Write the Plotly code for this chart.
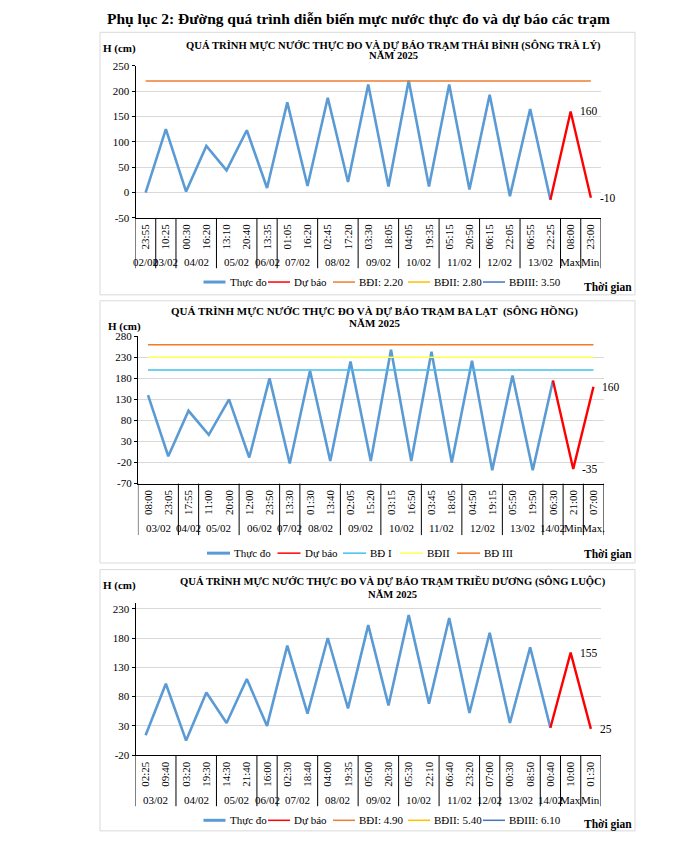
import plotly.graph_objects as go

W, H = 696, 848
FONT = "Liberation Serif"

# ---------------- Data ----------------
# Chart 1: Thái Bình (sông Trà Lý)
times1 = ["23:55", "10:25", "00:30", "16:20", "13:10", "20:40", "13:35", "01:05", "16:20", "02:45", "17:20",
          "03:30", "18:05", "04:05", "19:35", "05:15", "20:50", "06:15", "22:05", "06:55", "22:25", "08:00", "23:00"]
dates1 = ["02/02", "03/02", "04/02", "05/02", "06/02", "07/02", "08/02", "09/02", "10/02", "11/02", "12/02",
          "13/02", "Max", "Min"]
spans1 = [1, 1, 2, 2, 1, 2, 2, 2, 2, 2, 2, 2, 1, 1]
obs1 = [0, 125, 2, 92, 44, 123, 9, 178, 13, 187, 21, 213, 12, 221, 12, 213, 6, 193, -7, 165, -14]
fc1 = [-14, 160, -10]
levels1 = ["BĐI: 2.20", "BĐII: 2.80", "BĐIII: 3.50"]
levelvals1 = [220, 280, 350]
yticks1 = [-50, 0, 50, 100, 150, 200, 250]

# Chart 2: Ba Lạt (sông Hồng)
times2 = ["08:00", "23:05", "17:55", "11:00", "20:00", "12:00", "23:50", "13:30", "01:30", "13:40", "02:05",
          "15:20", "03:15", "16:50", "03:45", "18:05", "04:50", "19:15", "05:50", "19:50", "06:30", "21:00", "07:00"]
dates2 = ["03/02", "04/02", "05/02", "06/02", "07/02", "08/02", "09/02", "10/02", "11/02", "12/02", "13/02",
          "14/02", "Min", "Max."]
spans2 = [2, 1, 2, 2, 1, 2, 2, 2, 2, 2, 2, 1, 1, 1]
obs2 = [140, -5, 103, 46, 130, -8, 180, -22, 198, -16, 220, -16, 248, -16, 243, -20, 222, -38, 187, -38, 175]
fc2 = [175, -35, 160]
levels2 = ["BĐ I", "BĐII", "BĐ III"]
levelvals2 = [200, 230, 260]
yticks2 = [-70, -20, 30, 80, 130, 180, 230, 280]

# Chart 3: Triều Dương (sông Luộc)
times3 = ["02:25", "09:40", "03:20", "19:30", "14:30", "21:40", "16:00", "02:30", "18:40", "04:00", "19:35",
          "05:00", "20:30", "05:30", "22:10", "06:40", "23:20", "07:00", "00:30", "08:50", "00:40", "10:00", "01:30"]
dates3 = ["03/02", "04/02", "05/02", "06/02", "07/02", "08/02", "09/02", "10/02", "11/02", "12/02", "13/02",
          "14/02", "Max", "Min"]
spans3 = [2, 2, 2, 1, 2, 2, 2, 2, 2, 1, 2, 1, 1, 1]
obs3 = [14, 102, 5, 87, 35, 110, 30, 167, 51, 180, 60, 202, 65, 219, 68, 214, 52, 189, 35, 164, 27]
fc3 = [27, 155, 25]
levels3 = ["BĐI: 4.90", "BĐII: 5.40", "BĐIII: 6.10"]
levelvals3 = [490, 540, 610]
yticks3 = [-20, 30, 80, 130, 180, 230]

titles = [
    ["QUÁ TRÌNH MỰC NƯỚC THỰC ĐO VÀ DỰ BÁO TRẠM THÁI BÌNH (SÔNG TRÀ LÝ)", "NĂM 2025"],
    ["QUÁ TRÌNH MỰC NƯỚC THỰC ĐO VÀ DỰ BÁO TRẠM BA LẠT  (SÔNG HỒNG)", "NĂM 2025"],
    ["QUÁ TRÌNH MỰC NƯỚC THỰC ĐO VÀ DỰ BÁO TRẠM TRIỀU DƯƠNG (SÔNG LUỘC)", "NĂM 2025"],
]

# ---------------- Styles / layout (pixels) ----------------
level_colors = [
    ["#ED7D31", "#FFC000", "#4472C4"],
    ["#3FC1F0", "#FFFF4D", "#F47B20"],
    ["#ED7D31", "#FFC000", "#4472C4"],
]
geo = [
    dict(x0=135.5, x1=601, yt=60.7, yb=215, yr=[-50, 250], title_x=393, title_y=[40, 50.7], title_fs=10.6,
         hcm=(119.5, 43.3), sep_b=266, date_y=260, leg_y=280, leg_x=[203.5, 268, 333, 408, 483], leg_len=22,
         tg=(608, 286), panel=(26.7, 293)),
    dict(x0=137.9, x1=603.6, yt=335, yb=484.5, yr=[-70, 280], title_x=374.5, title_y=[310, 321.7], title_fs=11,
         hcm=(125, 325), sep_b=536.7, date_y=529.3, leg_y=555, leg_x=[207, 277.5, 343, 400, 457], leg_len=23,
         tg=(608, 556.7), panel=(299, 565)),
    dict(x0=135.5, x1=601, yt=605.4, yb=760, yr=[-20, 240], title_x=392.6, title_y=[583.3, 596.7], title_fs=10.6,
         hcm=(119.5, 587.7), sep_b=811.7, date_y=805, leg_y=826, leg_x=[203.5, 268, 333, 408, 483], leg_len=22,
         tg=(608, 830), panel=(571.7, 836.7)),
]

charts = [
    (times1, dates1, spans1, obs1, fc1, levels1, levelvals1, yticks1),
    (times2, dates2, spans2, obs2, fc2, levels2, levelvals2, yticks2),
    (times3, dates3, spans3, obs3, fc3, levels3, levelvals3, yticks3),
]


def px(x):
    return x / W


def py(y):
    return 1 - y / H


fig = go.Figure()
annotations = []
shapes = []
layout = {}

for k, (times, dates, spans, obs, fc, levels, levelvals, yticks) in enumerate(charts):
    g = geo[k]
    sfx = "" if k == 0 else str(k + 1)
    xr, yr = "x" + sfx, "y" + sfx
    n = len(times)
    idx = list(range(n))

    series = []  # (name, color, legend width)
    fig.add_trace(go.Scatter(x=idx[:len(obs)], y=obs, mode="lines", name="Thực đo",
                             line=dict(color="#5B9BD5", width=2.6), xaxis=xr, yaxis=yr, showlegend=False))
    series.append(("Thực đo", "#5B9BD5", 3))
    s = len(obs) - 1
    fig.add_trace(go.Scatter(x=idx[s:s + len(fc)], y=fc, mode="lines", name="Dự báo",
                             line=dict(color="#FF0000", width=2.4), xaxis=xr, yaxis=yr, showlegend=False))
    series.append(("Dự báo", "#FF0000", 1.5))
    for name, val, col in zip(levels, levelvals, level_colors[k]):
        fig.add_trace(go.Scatter(x=idx, y=[val] * n, mode="lines", name=name,
                                 line=dict(color=col, width=1.4), xaxis=xr, yaxis=yr, showlegend=False))
        series.append((name, col, 1.5))

    layout["xaxis" + sfx] = dict(
        domain=[px(g["x0"]), px(g["x1"])], anchor=yr, range=[-0.5, n - 0.5],
        tickmode="array", tickvals=idx, ticktext=times, tickangle=-90,
        showline=True, linecolor="black", linewidth=1, showgrid=False, zeroline=False,
        ticks="", ticklabelstandoff=1,
        tickfont=dict(family=FONT, size=11, color="black"), fixedrange=True)
    layout["yaxis" + sfx] = dict(
        domain=[py(g["yb"]), py(g["yt"])], anchor=xr, range=g["yr"],
        tickmode="array", tickvals=yticks, ticktext=[str(v) for v in yticks],
        showline=True, linecolor="black", linewidth=1, showgrid=True, gridcolor="#D9D9D9", gridwidth=1,
        zeroline=False, ticks="outside", ticklen=3, tickcolor="black",
        tickfont=dict(family=FONT, size=11, color="black"), fixedrange=True)

    # legend (one row under each chart)
    for (name, col, lw), lx in zip(series, g["leg_x"]):
        shapes.append(dict(type="line", xref="paper", yref="paper", x0=px(lx), x1=px(lx + g["leg_len"]),
                           y0=py(g["leg_y"]), y1=py(g["leg_y"]), line=dict(color=col, width=lw)))
        annotations.append(dict(x=px(lx + g["leg_len"] + 2), y=py(g["leg_y"]), xref="paper", yref="paper",
                                text=name, showarrow=False, xanchor="left", yanchor="middle",
                                font=dict(family=FONT, size=11, color="black")))

    # group separators and date labels
    pos = -0.5
    bounds = [pos]
    for d, sp in zip(dates, spans):
        annotations.append(dict(x=pos + sp / 2, y=py(g["date_y"]), xref=xr, yref="paper", text=d,
                                showarrow=False, font=dict(family=FONT, size=11, color="black"),
                                xanchor="center", yanchor="middle"))
        pos += sp
        bounds.append(pos)
    for b in bounds:
        shapes.append(dict(type="line", xref=xr, yref="paper", x0=b, x1=b, y0=py(g["yb"]), y1=py(g["sep_b"]),
                           line=dict(color="black", width=1)))

    # data labels for forecast max / min
    for j in (1, 2):
        annotations.append(dict(x=s + j, y=fc[j], xref=xr, yref=yr, text=str(fc[j]), showarrow=False,
                                xanchor="left", yanchor="middle", xshift=7,
                                font=dict(family=FONT, size=11.5, color="black")))

    # titles
    for line, ty in zip(titles[k], g["title_y"]):
        annotations.append(dict(x=px(g["title_x"]), y=py(ty), xref="paper", yref="paper", text="<b>%s</b>" % line,
                                showarrow=False, xanchor="center", yanchor="middle",
                                font=dict(family=FONT, size=g["title_fs"], color="black")))
    annotations.append(dict(x=px(g["hcm"][0]), y=py(g["hcm"][1]), xref="paper", yref="paper", text="<b>H (cm)</b>",
                            showarrow=False, xanchor="center", yanchor="middle",
                            font=dict(family=FONT, size=11, color="black")))
    annotations.append(dict(x=px(g["tg"][0]), y=py(g["tg"][1]), xref="paper", yref="paper", text="<b>Thời gian</b>",
                            showarrow=False, xanchor="center", yanchor="middle",
                            font=dict(family=FONT, size=11.5, color="black")))
    shapes.append(dict(type="rect", xref="paper", yref="paper", x0=px(100), x1=px(635),
                       y0=py(g["panel"][1]), y1=py(g["panel"][0]), line=dict(color="#D9D9D9", width=1),
                       layer="below"))

annotations.append(dict(x=px(358), y=py(13), xref="paper", yref="paper",
                        text="<b>Phụ lục 2: Đường quá trình diễn biến mực nước thực đo và dự báo các trạm</b>",
                        showarrow=False, xanchor="center", yanchor="middle",
                        font=dict(family=FONT, size=15.5, color="black")))

fig.update_layout(width=W, height=H, margin=dict(l=0, r=0, t=0, b=0), paper_bgcolor="white",
                  plot_bgcolor="white", annotations=annotations, shapes=shapes, showlegend=False, **layout)

fig.write_html("out.html", config={"displayModeBar": False},
               post_script="document.body.style.margin='0px';document.body.style.overflow='hidden';")
